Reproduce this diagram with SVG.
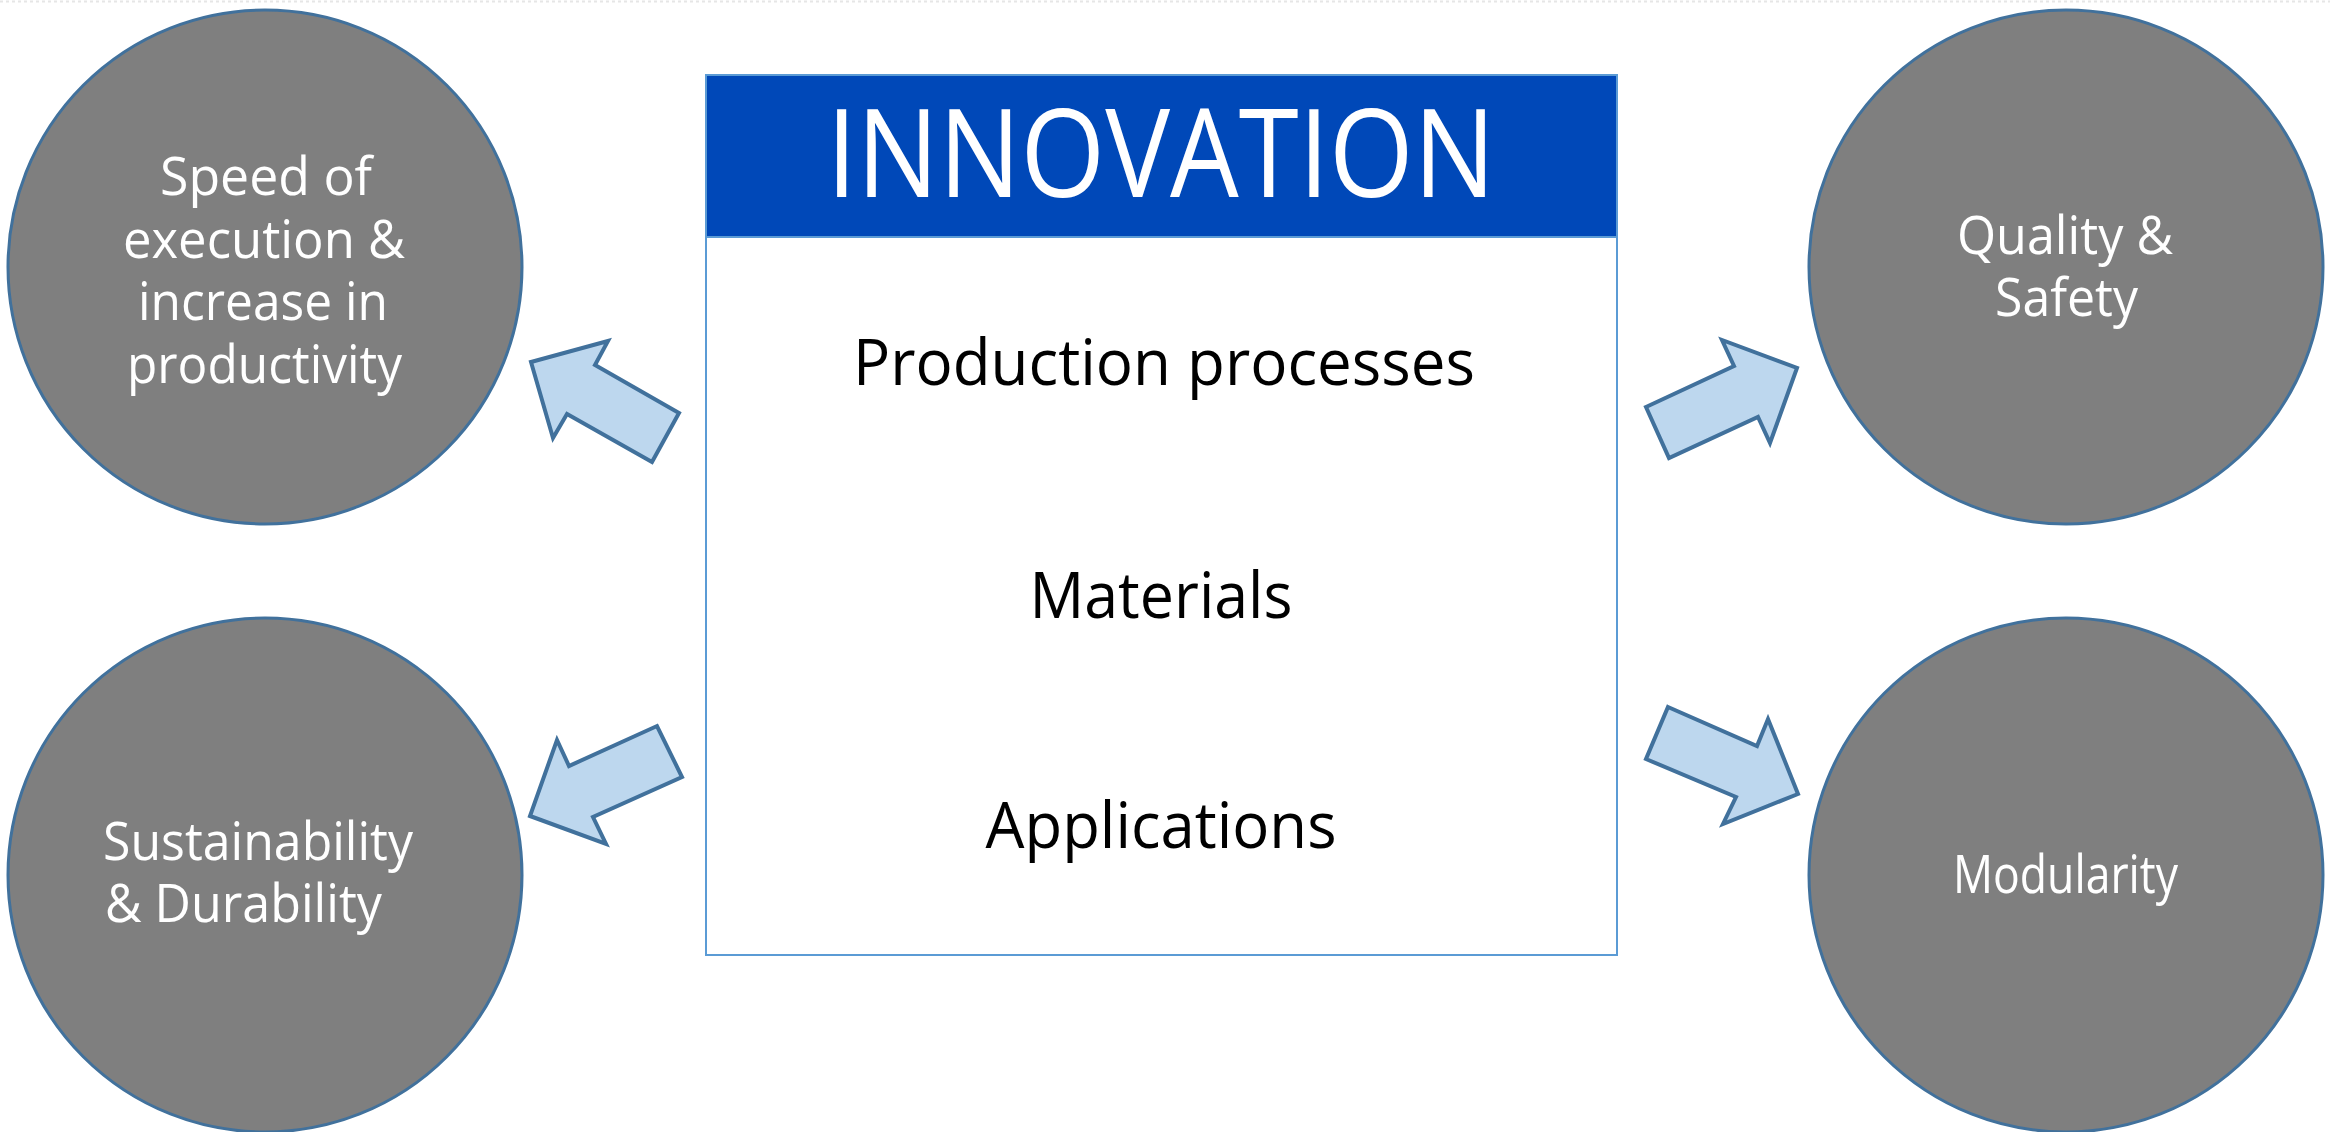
<svg xmlns="http://www.w3.org/2000/svg" width="2330" height="1132" viewBox="0 0 2330 1132">
<style>
.circ{fill:#7F7F7F;stroke:#41719C;stroke-width:3}
.arrow{fill:#BDD7EE;stroke:#41719C;stroke-width:4;stroke-linejoin:miter}
.ct{font-family:"Open Sans","Noto Sans","Liberation Sans",sans-serif;fill:#FFFFFF;font-size:53px}
.bt{font-family:"Open Sans","Noto Sans","Liberation Sans",sans-serif;fill:#000000;font-size:64px;text-anchor:middle}
</style>
<rect x="0" y="0" width="2330" height="1132" fill="#FFFFFF"/>
<line x1="0" y1="1.5" x2="2330" y2="1.5" stroke="#E6E6E6" stroke-width="2" stroke-dasharray="3 3"/>
<g id="node-innovation">
<rect x="706" y="75" width="911" height="880" fill="#FFFFFF" stroke="#5B9BD5" stroke-width="2"/>
<rect x="706" y="75" width="911" height="162" fill="#0048B8" stroke="#5B9BD5" stroke-width="2"/>
<text x="1161" y="197" font-family="'Open Sans','Noto Sans','Liberation Sans',sans-serif" font-size="122" fill="#FFFFFF" text-anchor="middle" textLength="669" lengthAdjust="spacingAndGlyphs">INNOVATION</text>
<text class="bt" x="1164" y="385" textLength="622" lengthAdjust="spacingAndGlyphs">Production processes</text>
<text class="bt" x="1161" y="618" textLength="263" lengthAdjust="spacingAndGlyphs">Materials</text>
<text class="bt" x="1161" y="848" textLength="351" lengthAdjust="spacingAndGlyphs">Applications</text>
</g>
<g id="node-speed">
<circle class="circ" cx="265" cy="267" r="257"/>
<text class="ct" x="160" y="195" textLength="212" lengthAdjust="spacingAndGlyphs">Speed of</text>
<text class="ct" x="123" y="258" textLength="282" lengthAdjust="spacingAndGlyphs">execution &amp;</text>
<text class="ct" x="138" y="320" textLength="250" lengthAdjust="spacingAndGlyphs">increase in</text>
<text class="ct" x="127" y="383" textLength="275" lengthAdjust="spacingAndGlyphs">productivity</text>
</g>
<g id="node-sustainability">
<circle class="circ" cx="265" cy="875" r="257"/>
<text class="ct" x="103" y="860" textLength="310" lengthAdjust="spacingAndGlyphs">Sustainability</text>
<text class="ct" x="105" y="922" textLength="277" lengthAdjust="spacingAndGlyphs">&amp; Durability</text>
</g>
<g id="node-quality">
<circle class="circ" cx="2066" cy="267" r="257"/>
<text class="ct" x="1957" y="254" textLength="216" lengthAdjust="spacingAndGlyphs">Quality &amp;</text>
<text class="ct" x="1995" y="316" textLength="143" lengthAdjust="spacingAndGlyphs">Safety</text>
</g>
<g id="node-modularity">
<circle class="circ" cx="2066" cy="875" r="257"/>
<text class="ct" x="1953" y="893" font-size="49" textLength="225" lengthAdjust="spacingAndGlyphs">Modularity</text>
</g>
<g id="connectors">
<polygon class="arrow" points="531,362 608,341 595,365 679,413 652,462 567,414 553,438"/>
<polygon class="arrow" points="530,816 606,844 593,817 682,777 657,726 569,766 557,740"/>
<polygon class="arrow" points="1646,407 1734,366 1722,340 1797,368 1770,443 1758,417 1669,458"/>
<polygon class="arrow" points="1668,707 1757,746 1768,719 1798,794 1723,824 1736,797 1646,759"/>
</g>
</svg>
